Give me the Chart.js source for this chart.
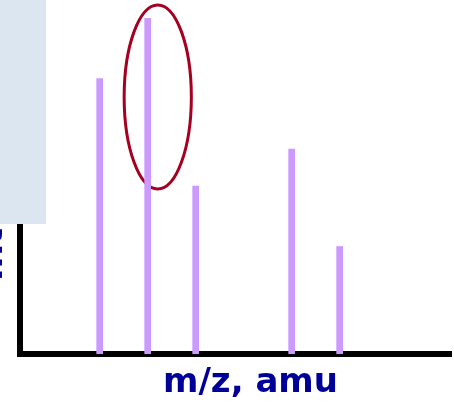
<!DOCTYPE html>
<html>
<head>
<meta charset="utf-8">
<script src="https://cdn.jsdelivr.net/npm/chart.js@4"></script>
<style>
  html, body { margin: 0; padding: 0; background: #fff; }
  #wrap { position: relative; width: 454px; height: 402px; }
</style>
</head>
<body>
<div id="wrap"><canvas id="spectrum" width="454" height="402"></canvas></div>
<script>
  // peaks of the spectrum (m/z step of 1 between neighbouring lines)
  const mzValues = [1, 2, 3, 5, 6];
  const intensities = [82, 100, 50, 61, 32];

  const xTitle = "m/z, amu";
  const yTitle = "Intensity";

  // highlight ring round the base peak, in data units
  const ring = { x: 2.21, y: 76.5, rx: 0.70, ry: 27.4 };

  const decor = {
    id: 'decor',
    beforeDatasetsDraw(chart) {
      const { ctx, scales: { x, y } } = chart;
      const cx = x.getPixelForValue(ring.x);
      const cy = y.getPixelForValue(ring.y);
      const rx = x.getPixelForValue(ring.x + ring.rx) - cx;
      const ry = cy - y.getPixelForValue(ring.y + ring.ry);
      ctx.save();
      ctx.beginPath();
      ctx.ellipse(cx, cy, rx, ry, 0, 0, Math.PI * 2);
      ctx.strokeStyle = '#a50021';
      ctx.lineWidth = 3;
      ctx.stroke();
      ctx.restore();
    },
    afterDraw(chart) {
      const { ctx } = chart;
      ctx.save();
      ctx.fillStyle = '#000099';
      ctx.font = 'bold 34px "DejaVu Sans"';
      ctx.textAlign = 'center';
      ctx.textBaseline = 'alphabetic';
      ctx.fillText(xTitle, 250.5, 392);

      // y title mostly cut off at the left edge
      ctx.translate(2, 281);
      ctx.rotate(-Math.PI / 2);
      ctx.textAlign = 'left';
      ctx.fillText(yTitle, 0, 0);
      ctx.restore();

      // pale panel over the upper left corner
      ctx.save();
      ctx.fillStyle = '#dce6f1';
      ctx.fillRect(0, 0, 46, 224);
      ctx.restore();
    }
  };

  new Chart(document.getElementById('spectrum'), {
    type: 'bar',
    data: {
      datasets: [{
        data: mzValues.map((m, i) => ({ x: m, y: intensities[i] })),
        backgroundColor: '#cc99ff',
        borderWidth: 0,
        barThickness: 6
      }]
    },
    options: {
      responsive: false,
      animation: false,
      events: [],
      layout: { padding: { left: 20, right: 3, top: 18, bottom: 48 } },
      scales: {
        x: {
          type: 'linear',
          min: -0.66,
          max: 8.32,
          offset: false,
          ticks: { display: false },
          grid: { display: false, drawTicks: false },
          border: { display: true, color: '#000', width: 6 }
        },
        y: {
          min: 0,
          max: 100,
          ticks: { display: false },
          grid: { display: false, drawTicks: false },
          border: { display: true, color: '#000', width: 6 }
        }
      },
      plugins: {
        legend: { display: false },
        tooltip: { enabled: false }
      }
    },
    plugins: [decor]
  });
</script>
</body>
</html>
